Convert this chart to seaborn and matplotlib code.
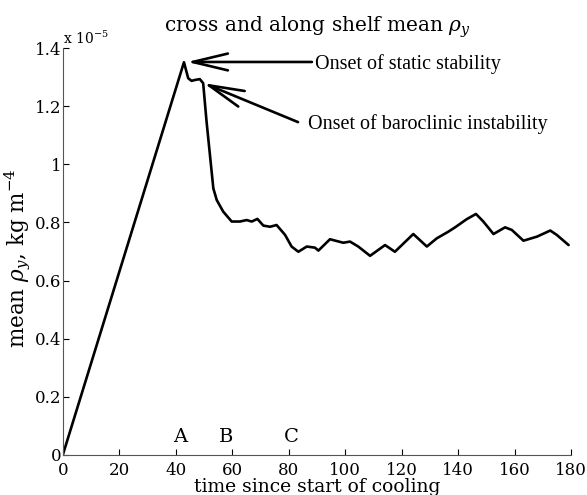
import numpy as np
import pandas as pd
import matplotlib
matplotlib.use('Agg')
import matplotlib.pyplot as plt
import seaborn as sns

# time since start of cooling and mean rho_y (units of 1e-5 kg m^-4)
time = [0, 42.9, 44.4, 45.6, 46.8, 48.5, 49.7, 50.9, 52.1, 53.3, 54.5, 56.8,
        59.8, 62.7, 65.1, 66.9, 68.9, 71.0, 73.4, 75.7, 78.7, 81.0, 83.4,
        86.4, 89.3, 90.5, 94.6, 99.3, 101.7, 104.6, 108.8, 114.1, 117.6,
        124.1, 128.9, 132.4, 136.5, 138.9, 143.0, 146.3, 148.9, 152.5, 156.6,
        159.0, 163.1, 167.9, 172.6, 174.9, 179.1]
rho_y = [0, 1.351, 1.296, 1.287, 1.29, 1.293, 1.279, 1.147, 1.032, 0.917,
         0.877, 0.837, 0.803, 0.803, 0.808, 0.803, 0.812, 0.789, 0.785, 0.791,
         0.757, 0.717, 0.699, 0.717, 0.713, 0.703, 0.742, 0.73, 0.734, 0.717,
         0.685, 0.722, 0.699, 0.76, 0.717, 0.745, 0.768, 0.783, 0.811, 0.829,
         0.803, 0.76, 0.783, 0.774, 0.737, 0.751, 0.772, 0.757, 0.722]

stage_labels = ['A', 'B', 'C']
stage_times = [41.5, 57.8, 80.8]

xticks = list(range(0, 181, 20))
yticks = [0, 0.2, 0.4, 0.6, 0.8, 1, 1.2, 1.4]
ytick_labels = ['0', '0.2', '0.4', '0.6', '0.8', '1', '1.2', '1.4']

sns.set_style('ticks')
plt.rcParams['font.family'] = ['DejaVu Serif']
plt.rcParams['mathtext.fontset'] = 'dejavuserif'
plt.rcParams['text.color'] = 'black'
plt.rcParams['axes.labelcolor'] = 'black'

df = pd.DataFrame({'time': time, 'rho': rho_y})

fig = plt.figure(figsize=(5.87, 4.95), dpi=100)
ax = fig.add_axes([0.107, 0.081, 0.866, 0.822])
sns.lineplot(data=df, x='time', y='rho', color='black', linewidth=1.9, ax=ax)

ax.set_xlim(0, 180)
ax.set_ylim(0, 1.4)
ax.set_xticks(xticks)
ax.set_yticks(yticks)
ax.set_yticklabels(ytick_labels)
ax.tick_params(direction='in', length=4, labelsize=12, colors='black')
ax.tick_params(axis='x', pad=5)
ax.tick_params(axis='y', pad=1)
sns.despine(ax=ax)
for s in ['left', 'bottom']:
    ax.spines[s].set_color('#555555')
    ax.spines[s].set_linewidth(0.8)

ax.set_xlabel('time since start of cooling', fontsize=13.5)
ax.xaxis.set_label_coords(0.5, -0.056)
ax.set_ylabel(r'mean $\rho_y$, kg m$^{-4}$', fontsize=15.5)
ax.yaxis.set_label_coords(-0.058, 0.484)
ax.set_title(r'cross and along shelf mean $\rho_y$', fontsize=14.5, pad=12)
ax.text(0.0, 1.003, r'x 10$^{-5}$', transform=ax.transAxes, fontsize=10,
        ha='left', va='bottom')

for lab, t in zip(stage_labels, stage_times):
    ax.text(t, 0.062, lab, fontsize=14, ha='center', va='center')

arrow = dict(arrowstyle='->,head_length=2.3,head_width=0.55', color='black',
             lw=1.9, shrinkA=0, shrinkB=0)
ax.annotate('', xy=(44.0, 1.352), xytext=(88.2, 1.352), arrowprops=arrow,
            fontsize=11)
ax.annotate('', xy=(49.9, 1.279), xytext=(83.3, 1.145), arrowprops=arrow,
            fontsize=11)
ax.text(89.3, 1.345, 'Onset of static stability', fontsize=14.5,
        family='Liberation Serif', ha='left', va='center')
ax.text(86.8, 1.137, 'Onset of baroclinic instability', fontsize=14.5,
        family='Liberation Serif', ha='left', va='center')

fig.savefig('out.png', dpi=100)
